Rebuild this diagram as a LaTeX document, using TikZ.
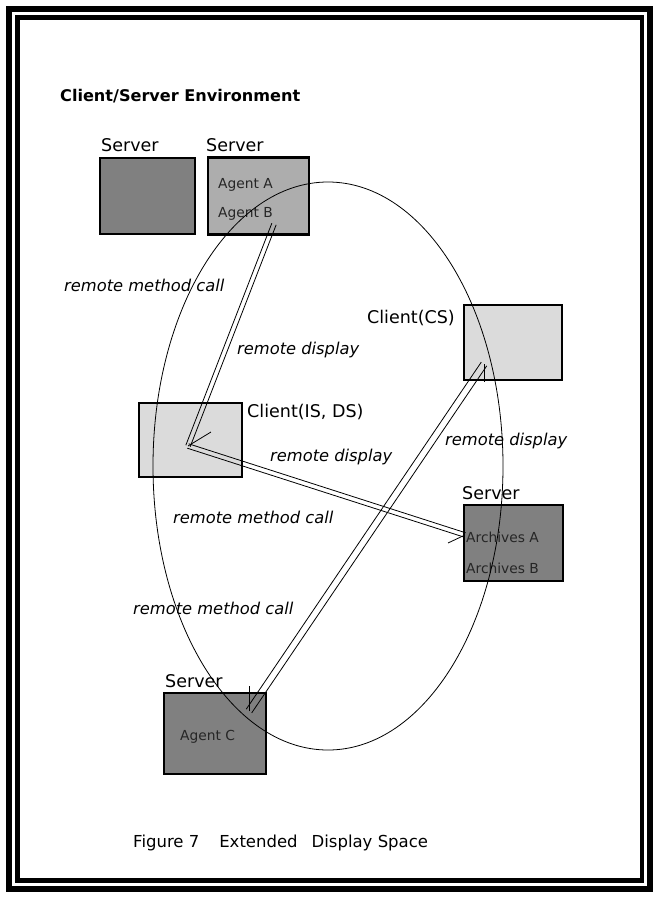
\documentclass[tikz,border=0pt]{standalone}
\usepackage{fontspec}
\setmainfont{DejaVu Sans}
\usetikzlibrary{calc}
\begin{document}
\begin{tikzpicture}[x=1pt,y=-1pt,
  box/.style={draw, line width=2.6pt},
  dense/.style={fill=black!50},
  mid/.style={fill=black!32},
  light/.style={fill=black!14},
  lbl/.style={font=\itshape\fontsize{16.3}{20}\selectfont, inner sep=0, anchor=west},
  srv/.style={font=\fontsize{17.5}{20}\selectfont, inner sep=0, anchor=west},
  agt/.style={font=\fontsize{13.8}{16}\selectfont, inner sep=0, anchor=west, text=black!85},
  link/.style={line width=0.8pt},
]
\useasboundingbox (0,0) rectangle (660,900);
% frame
\draw[line width=6pt] (9,9) rectangle (650,889);
\draw[line width=4.5pt] (17.5,17.5) rectangle (642,880.5);
% title
\node[font=\bfseries\fontsize{16.1}{20}\selectfont, inner sep=0, anchor=west] (title) at (60,96) {Client/Server Environment};
% boxes
\node[box, dense, minimum width=95pt, minimum height=76pt] (s1) at (147.5,196) {};
\node[box, mid, minimum width=101pt, minimum height=77pt] (s2) at (258.5,196) {};
\node[box, light, minimum width=98pt, minimum height=75pt] (cs) at (513,342.5) {};
\node[box, light, minimum width=103pt, minimum height=74pt] (cis) at (190.5,440) {};
\node[box, dense, minimum width=99pt, minimum height=76pt] (sa) at (513.5,543) {};
\node[box, dense, minimum width=102pt, minimum height=81pt] (sc) at (215,733.5) {};
% box labels
\node[srv] (l1) at (101,145) {Server};
\node[srv] (l2) at (206,145) {Server};
\node[srv] (l3) at (462,493) {Server};
\node[srv] (l4) at (165,681) {Server};
\node[srv, anchor=east] (lcs) at (455,318) {Client(CS)};
\node[srv] (lcis) at (247,412) {Client(IS, DS)};
\node[agt] (aa) at (218,185) {Agent A};
\node[agt] (ab) at (218,214) {Agent B};
\node[agt] (ra) at (466,537) {Archives A};
\node[agt] (rb) at (466,568) {Archives B};
\node[agt] (ac) at (180,737) {Agent C};
% ellipse
\draw[line width=0.8pt] (328,466) ellipse [x radius=175, y radius=284];
% arrow end points
\coordinate (T1) at (274,224);
\coordinate (T2) at (188,446);
\coordinate (T3) at (484,364);
\coordinate (T4) at (249,711);
\coordinate (T5) at (465,535);
\coordinate (B2) at (211,432);
\coordinate (B3) at (484,382);
\coordinate (B4) at (249,686);
\coordinate (B5) at (448,543);
% double links
\draw[link] ($(T2)!2.3pt!90:(T1)$) -- ($(T1)!2.3pt!-90:(T2)$);
\draw[link] ($(T2)!2.3pt!-90:(T1)$) -- ($(T1)!2.3pt!90:(T2)$);
\draw[link] ($(T3)!3.3pt!90:(T4)$) -- ($(T4)!3.3pt!-90:(T3)$);
\draw[link] ($(T3)!3.3pt!-90:(T4)$) -- ($(T4)!3.3pt!90:(T3)$);
\draw[link] ($(T2)!2.3pt!90:(T5)$) -- ($(T5)!2.3pt!-90:(T2)$);
\draw[link] ($(T2)!2.3pt!-90:(T5)$) -- ($(T5)!2.3pt!90:(T2)$);
% barbs
\draw[link] (T2) -- (B2);
\draw[link] (T3) -- (B3);
\draw[link] (T4) -- (B4);
\draw[link] (T5) -- (B5);
% link labels
\node[lbl] (m1) at (64,285) {remote method call};
\node[lbl] (d1) at (237,350) {remote display};
\node[lbl] (d2) at (270,457) {remote display};
\node[lbl] (d3) at (445,441) {remote display};
\node[lbl] (m2) at (173,517) {remote method call};
\node[lbl] (m3) at (133,608) {remote method call};
% caption
\node[font=\fontsize{16.5}{20}\selectfont, inner sep=0, anchor=west] (cap) at (133,843) {Figure 7\hspace{20pt}Extended\hspace{14pt}Display Space};
\end{tikzpicture}
\end{document}
